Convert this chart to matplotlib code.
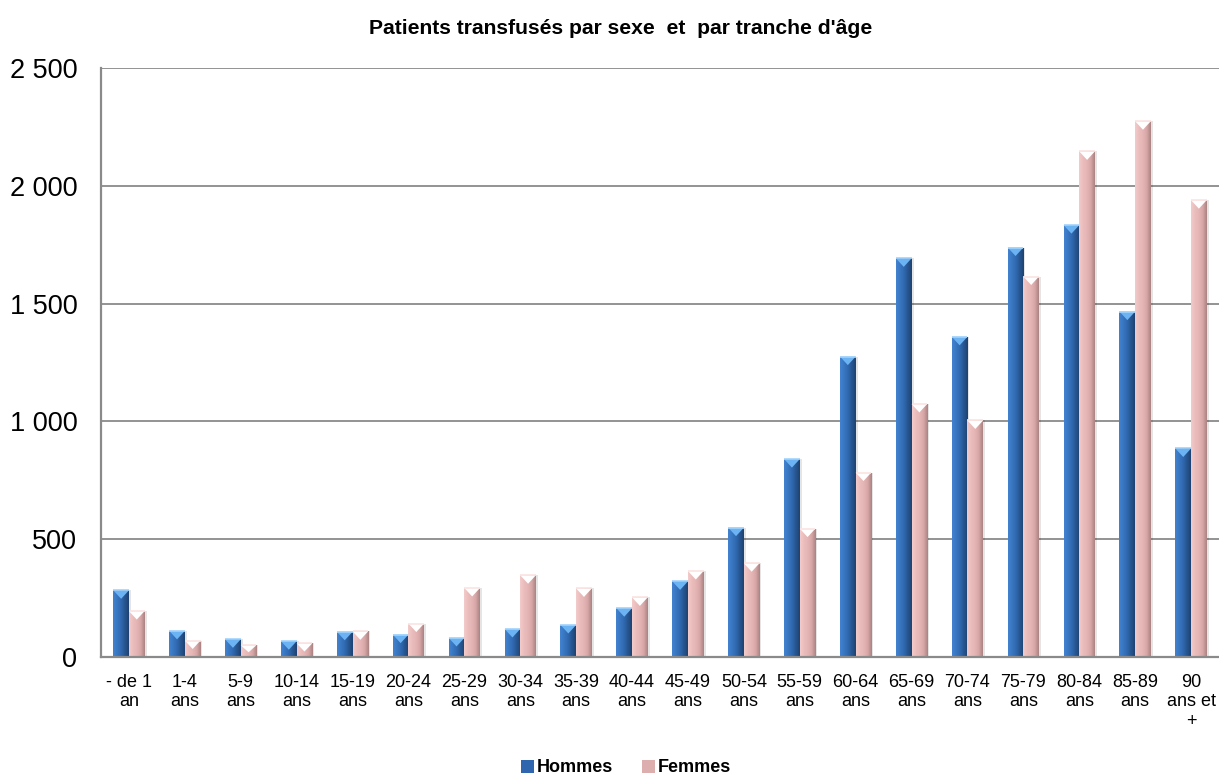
import numpy as np
import matplotlib
matplotlib.use("Agg")
import matplotlib.pyplot as plt
from matplotlib.ticker import FuncFormatter, MultipleLocator
from matplotlib.patches import Polygon, Patch
from matplotlib.colors import LinearSegmentedColormap

plt.rcParams['font.family'] = ['Liberation Sans', 'DejaVu Sans']

# Age groups and number of transfused patients by sex
categories = ["- de 1\nan", "1-4\nans", "5-9\nans", "10-14\nans", "15-19\nans",
              "20-24\nans", "25-29\nans", "30-34\nans", "35-39\nans", "40-44\nans",
              "45-49\nans", "50-54\nans", "55-59\nans", "60-64\nans", "65-69\nans",
              "70-74\nans", "75-79\nans", "80-84\nans", "85-89\nans", "90\nans et\n+"]
hommes = [283, 111, 75, 67, 107, 95, 81, 119, 136, 207,
          321, 549, 840, 1275, 1692, 1359, 1738, 1833, 1466, 885]
femmes = [195, 70, 50, 58, 109, 142, 293, 347, 291, 253,
          365, 398, 545, 783, 1074, 1004, 1615, 2146, 2274, 1939]
series_names = ["Hommes", "Femmes"]

W, H = 1219, 776
fig = plt.figure(figsize=(W / 100, H / 100), dpi=100)
ax = fig.add_axes([101 / W, 1 - 657 / H, (1219 - 101) / W, (657 - 68) / H])

x = np.arange(len(categories))
bw = 0.28
grid_col = "#8a8a8a"

# shaded fills: left edge lighter, right edge darker, like a rounded bevel
styles = {
    "Hommes": dict(cmap=LinearSegmentedColormap.from_list(
        "h", ["#4282cf", "#3877c2", "#3069b0", "#27558f", "#1e4272"]),
        tri="#6cb3f3", top="#a3d3fc", legend="#2f66ad"),
    "Femmes": dict(cmap=LinearSegmentedColormap.from_list(
        "f", ["#f2cbca", "#eabdbc", "#e4b5b4", "#d5a6a5", "#a98382"]),
        tri="#ffffff", top="#fbe3e2", legend="#dcaeae"),
}

ylim = (0, 2500)
ax.set_xlim(-0.5, len(categories) - 0.5)
ax.set_ylim(*ylim)
ax.set_axisbelow(True)
ax.yaxis.grid(True, color=grid_col, linewidth=1.3)
ax.yaxis.set_major_locator(MultipleLocator(500))

grad = np.linspace(0, 1, 64).reshape(1, -1)
px_per_unit = (657 - 68) / (ylim[1] - ylim[0])
tri_h = 8.5 / px_per_unit

for name, vals, off in [("Hommes", hommes, -bw / 2), ("Femmes", femmes, bw / 2)]:
    st = styles[name]
    # soft shadow to the right of each bar
    ax.bar(x + off + 0.035, vals, width=bw, color="#000000", alpha=0.10,
           linewidth=0, zorder=2)
    bars = ax.bar(x + off, vals, width=bw, color=st["legend"], linewidth=0, zorder=3)
    for b in bars:
        x0, w, h = b.get_x(), b.get_width(), b.get_height()
        im = ax.imshow(grad, cmap=st["cmap"], extent=(x0, x0 + w, 0, h),
                       aspect="auto", zorder=4, interpolation="bilinear")
        im.set_clip_path(b)
        th = min(tri_h, h * 0.6)
        ax.add_patch(Polygon([(x0, h), (x0 + w, h), (x0 + w / 2, h - th)],
                             closed=True, facecolor=st["tri"], edgecolor="none",
                             zorder=5))
        ax.plot([x0, x0 + w], [h, h], color=st["top"], linewidth=1.2,
                solid_capstyle="butt", zorder=6)

ax.set_xlim(-0.5, len(categories) - 0.5)
ax.set_ylim(*ylim)

for side in ["top", "right"]:
    ax.spines[side].set_visible(False)
for side in ["left", "bottom"]:
    ax.spines[side].set_color(grid_col)
    ax.spines[side].set_linewidth(1.6)
    ax.spines[side].set_zorder(7)

ax.set_xticks(x)
ax.set_xticklabels(categories, fontsize=13, linespacing=1.2, va="top")
ax.yaxis.set_major_formatter(FuncFormatter(lambda v, p: f"{int(v):,}".replace(",", " ")))
ax.tick_params(axis="x", length=0, pad=12)
ax.tick_params(axis="y", length=0, pad=17, labelsize=19.5)

fig.text(621 / W, 1 - 28 / H, "Patients transfusés par sexe  et  par tranche d'âge",
         ha="center", va="center", fontsize=15.2, fontweight="bold")

handles = [Patch(facecolor=styles[n]["legend"], edgecolor="none") for n in series_names]
fig.legend(handles, series_names, loc="center", bbox_to_anchor=(626 / W, 1 - 768 / H),
           ncol=2, frameon=False, prop=dict(weight="bold", size=13),
           handlelength=0.75, handleheight=0.75, handletextpad=0.15,
           columnspacing=1.6, borderaxespad=0)

fig.savefig("out.png", dpi=100)
